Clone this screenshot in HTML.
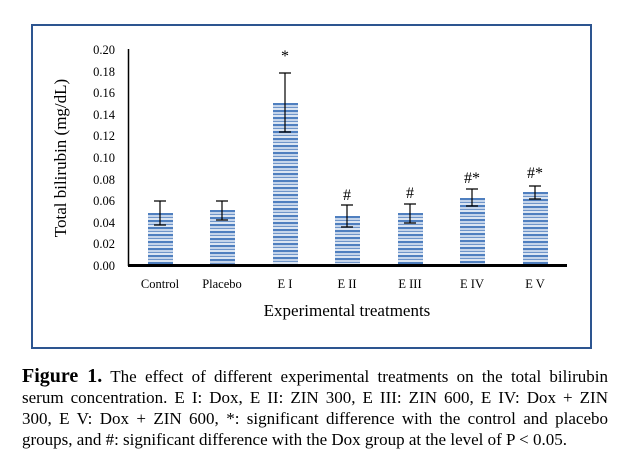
<!DOCTYPE html>
<html><head><style>
body{margin:0;background:#fff;width:622px;height:467px;position:relative;overflow:hidden;font-family:"Liberation Serif",serif;}
.box{position:absolute;left:31px;top:24px;width:557px;height:321px;border:2px solid #2d5590;}
.bar{position:absolute;width:25px;background:repeating-linear-gradient(to bottom,#4f7fbf 0 2px,#c4d4ea 2px 4px,#6f95c9 4px 5px,#dbe5f2 5px 7px);}
.cap{position:absolute;left:22px;top:366px;width:586px;font-size:17px;line-height:21px;}
.cap div{text-align:justify;text-align-last:justify;white-space:nowrap;}
.cap div.l{text-align-last:left;}
svg{position:absolute;left:0;top:0}
</style></head><body>
<div class="box"></div>
<div class="bar" style="left:148px;top:213px;height:51px"></div>
<div class="bar" style="left:210px;top:210px;height:54px"></div>
<div class="bar" style="left:273px;top:103px;height:161px"></div>
<div class="bar" style="left:335px;top:216px;height:48px"></div>
<div class="bar" style="left:398px;top:213px;height:51px"></div>
<div class="bar" style="left:460px;top:198px;height:66px"></div>
<div class="bar" style="left:523px;top:192px;height:72px"></div>
<svg width="622" height="467">
<line x1="128.5" y1="49" x2="128.5" y2="266" stroke="#000" stroke-width="1.5"/>
<line x1="128" y1="265.5" x2="567" y2="265.5" stroke="#000" stroke-width="3"/>
<g stroke="#000" stroke-width="1.2">
<path d="M160 201V225M154 201H166M154 225H166"/>
<path d="M222 201V220M216 201H228M216 220H228"/>
<path d="M285 73V132M279 73H291M279 132H291"/>
<path d="M347 205V227M341 205H353M341 227H353"/>
<path d="M410 204V223M404 204H416M404 223H416"/>
<path d="M472 189V206M466 189H478M466 206H478"/>
<path d="M535 186V199M529 186H541M529 199H541"/>
</g>
<g font-family="Liberation Serif" font-size="16" text-anchor="middle">
<text x="285" y="61">*</text>
<text x="347" y="200">#</text>
<text x="410" y="198">#</text>
<text x="472" y="183">#*</text>
<text x="535" y="178">#*</text>
</g>
<text transform="translate(66,158) rotate(-90)" font-family="Liberation Serif" font-size="17" text-anchor="middle">Total bilirubin (mg/dL)</text>
<g font-family="Liberation Serif" font-size="12.5" text-anchor="end">
<text x="115" y="54">0.20</text><text x="115" y="76">0.18</text><text x="115" y="97">0.16</text>
<text x="115" y="119">0.14</text><text x="115" y="140">0.12</text><text x="115" y="162">0.10</text>
<text x="115" y="184">0.08</text><text x="115" y="205">0.06</text><text x="115" y="227">0.04</text>
<text x="115" y="248">0.02</text><text x="115" y="270">0.00</text>
</g>
<g font-family="Liberation Serif" font-size="12.5" text-anchor="middle">
<text x="160" y="288">Control</text><text x="222" y="288">Placebo</text><text x="285" y="288">E I</text>
<text x="347" y="288">E II</text><text x="410" y="288">E III</text><text x="472" y="288">E IV</text><text x="535" y="288">E V</text>
</g>
<text x="347" y="316" font-family="Liberation Serif" font-size="17" text-anchor="middle">Experimental treatments</text>
</svg>
<div class="cap">
<div><b style="font-size:20px">Figure 1.</b> The effect of different experimental treatments on the total bilirubin</div>
<div>serum concentration. E I: Dox, E II: ZIN 300, E III: ZIN 600, E IV: Dox + ZIN</div>
<div>300, E V: Dox + ZIN 600, *: significant difference with the control and placebo</div>
<div class="l">groups, and #: significant difference with the Dox group at the level of P &lt; 0.05.</div>
</div>
</body></html>
